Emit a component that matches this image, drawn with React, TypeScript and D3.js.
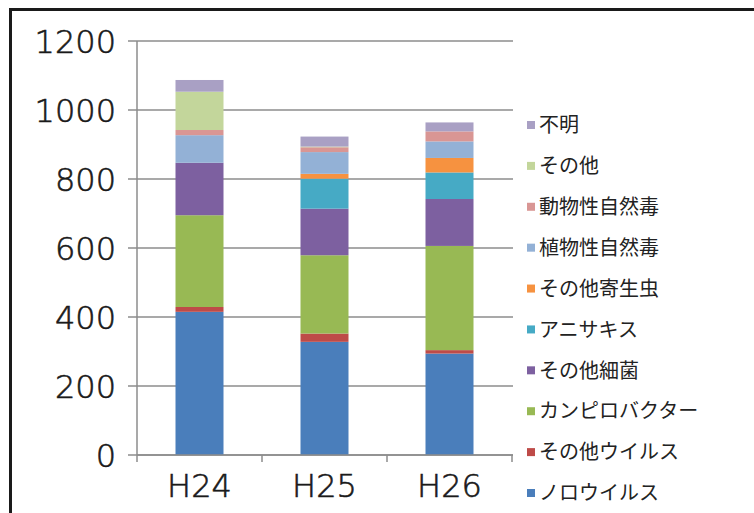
import React, { useEffect } from 'react';
import * as d3 from 'd3';

const years = ['H24', 'H25', 'H26'];

// bottom to top of each stack
const seriesNames = [
  'ノロウイルス',
  'その他ウイルス',
  'カンピロバクター',
  'その他細菌',
  'アニサキス',
  'その他寄生虫',
  '植物性自然毒',
  '動物性自然毒',
  'その他',
  '不明',
];

const noro = [415, 328, 294];
const otherVirus = [14, 24, 10];
const campylo = [266, 227, 302];
const otherBacteria = [152, 135, 136];
const anisakis = [0, 87, 77];
const otherParasite = [0, 14, 42];
const plantToxin = [80, 63, 48];
const animalToxin = [15, 14, 29];
const other = [111, 2, 0];
const unknown = [34, 29, 26];

const seriesValues = [
  noro, otherVirus, campylo, otherBacteria, anisakis,
  otherParasite, plantToxin, animalToxin, other, unknown,
];

const colors = [
  '#4A7EBB', '#BE4B48', '#98B954', '#7D60A0', '#46AAC5',
  '#F69240', '#93B1D6', '#D99694', '#C3D69B', '#A9A0C4',
];

const yTicks = [0, 200, 400, 600, 800, 1000, 1200];

const W = 754;
const H = 513;

const App = () => {
  useEffect(() => {
    document.body.style.margin = '0';
  }, []);

  const x = d3.scaleBand<string>()
    .domain(years)
    .range([137, 512])
    .paddingInner(0.616)
    .paddingOuter(0.308);

  const y = d3.scaleLinear().domain([0, 1200]).range([455, 41]);

  const rows = years.map((yr, i) => {
    const r: any = { year: yr };
    seriesNames.forEach((s, k) => { r[s] = seriesValues[k][i]; });
    return r;
  });
  const stack = d3.stack<any>().keys(seriesNames)(rows);

  const legendY = d3.scalePoint<string>()
    .domain([...seriesNames].reverse())
    .range([125, 493]);

  const numFont = '"DejaVu Sans", sans-serif';
  const jpFont = '"Noto Sans CJK JP", sans-serif';

  return (
    <svg width={W} height={H} style={{ display: 'block', background: '#fff' }}>
      <rect x={10.5} y={9.5} width={780} height={540} fill="none" stroke="#1a1a1a" strokeWidth={3} />

      {yTicks.map(t => (
        <g key={t}>
          <line x1={128} x2={513} y1={y(t)} y2={y(t)} stroke="#8c8c8c" strokeWidth={1.5} />
          <text x={116} y={y(t)} dy="0.36em" textAnchor="end" fontFamily={numFont} fontWeight={200}
            fontSize={32} fill="#1a1a1a" stroke="#1a1a1a" strokeWidth={0.6}>{t}</text>
        </g>
      ))}
      <line x1={137} x2={137} y1={y(1200)} y2={y(0)} stroke="#8c8c8c" strokeWidth={1.5} />

      {stack.map((layer, k) => (
        <g key={seriesNames[k]} fill={colors[k]}>
          {layer.map((d: any) => (
            <rect key={d.data.year} x={x(d.data.year)} width={x.bandwidth()}
              y={y(d[1])} height={Math.max(0, y(d[0]) - y(d[1]))} />
          ))}
        </g>
      ))}

      {[0, 1, 2, 3].map(i => {
        const px = 137 + i * x.step();
        return <line key={i} x1={px} x2={px} y1={455} y2={462} stroke="#8c8c8c" strokeWidth={1.5} />;
      })}
      <line x1={137} x2={513} y1={455} y2={455} stroke="#8c8c8c" strokeWidth={1.5} />
      {years.map(yr => (
        <text key={yr} x={(x(yr) as number) + x.bandwidth() / 2} y={497} textAnchor="middle"
          fontFamily={numFont} fontWeight={200} fontSize={32} fill="#1a1a1a"
          stroke="#1a1a1a" strokeWidth={0.6}>{yr}</text>
      ))}

      {seriesNames.map((s, k) => (
        <g key={s} transform={`translate(527, ${legendY(s)})`}>
          <rect x={0} y={-4} width={8} height={8} fill={colors[k]} />
          <text x={12} y={0} dy="0.36em" fontFamily={jpFont} fontSize={20} fill="#222">{s}</text>
        </g>
      ))}
    </svg>
  );
};

export default App;
